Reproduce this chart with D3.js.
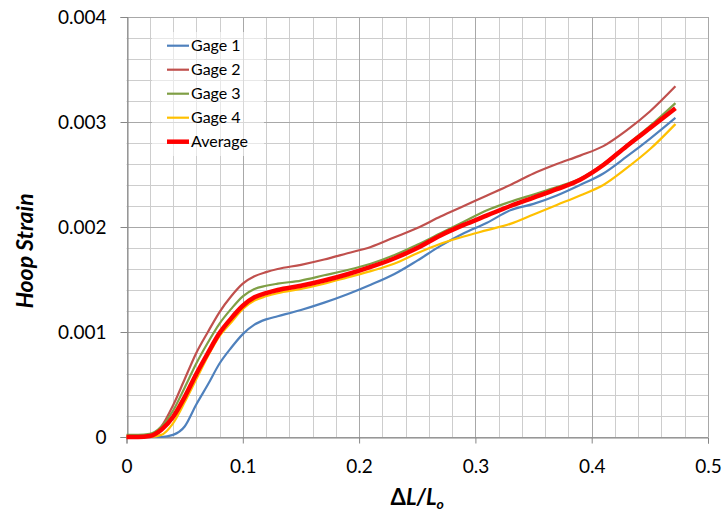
<!DOCTYPE html>
<html>
<head>
<meta charset="utf-8">
<script src="https://cdn.jsdelivr.net/npm/d3@7"></script>
<style>
  body { margin: 0; background: #fff; }
  svg { display: block; font-family: Lato, "Open Sans", sans-serif; }
</style>
</head>
<body>
<svg id="chart" width="728" height="514"></svg>
<script>
// displacement ratio dL/Lo, shared by all series
const xs = [0, 0.01, 0.02, 0.03, 0.04, 0.05, 0.06, 0.07, 0.08, 0.09, 0.10, 0.11, 0.12, 0.13,
  0.15, 0.17, 0.19, 0.21, 0.23, 0.25, 0.27, 0.29, 0.31, 0.33, 0.35, 0.37, 0.39, 0.41, 0.43, 0.45, 0.472];

const gage1 = [0, 0, 0, 0, 0.00002, 0.0001, 0.00031, 0.0005, 0.0007, 0.00085, 0.00098, 0.00107, 0.00112, 0.00115,
  0.00121, 0.00128, 0.00136, 0.00145, 0.00155, 0.00168, 0.00182, 0.00194, 0.00204, 0.00216, 0.00222, 0.0023,
  0.0024, 0.00251, 0.00267, 0.00284, 0.00304];
const gage2 = [0, 0, 0.00001, 0.0001, 0.0003, 0.00055, 0.0008, 0.001, 0.00119, 0.00134, 0.00146, 0.00153, 0.00157, 0.0016,
  0.00164, 0.00169, 0.00175, 0.00181, 0.0019, 0.00199, 0.0021, 0.0022, 0.0023, 0.0024, 0.00251, 0.0026,
  0.00268, 0.00277, 0.00292, 0.0031, 0.00334];
const gage3 = [0.00002, 0.00002, 0.00003, 0.0001, 0.00025, 0.00047, 0.0007, 0.0009, 0.00108, 0.00122, 0.00134, 0.00141, 0.00144, 0.00146,
  0.00149, 0.00154, 0.00159, 0.00165, 0.00173, 0.00183, 0.00194, 0.00205, 0.00216, 0.00224, 0.00231, 0.00238,
  0.00246, 0.0026, 0.00278, 0.00296, 0.00318];
const gage4 = [0, 0, 0, 0.00002, 0.00013, 0.00033, 0.00055, 0.00077, 0.00096, 0.00109, 0.00122, 0.0013, 0.00134, 0.00137,
  0.00141, 0.00146, 0.00152, 0.00158, 0.00165, 0.00175, 0.00184, 0.00191, 0.00197, 0.00203, 0.00212, 0.00221,
  0.0023, 0.0024, 0.00256, 0.00274, 0.00298];
const average = [0, 0, 0.00001, 0.00007, 0.00019, 0.00038, 0.0006, 0.0008, 0.00099, 0.00113, 0.00125, 0.00133, 0.00137, 0.0014,
  0.00144, 0.00149, 0.00155, 0.00162, 0.0017, 0.0018, 0.00192, 0.00202, 0.00211, 0.0022, 0.00228, 0.00236,
  0.00245, 0.00259, 0.00277, 0.00294, 0.00313];

const seriesNames = ["Gage 1", "Gage 2", "Gage 3", "Gage 4", "Average"];
const seriesValues = [gage1, gage2, gage3, gage4, average];
const seriesColors = ["#4f81bd", "#c0504d", "#7f9f45", "#ffc000", "#ff0000"];

const xTicks = [0, 0.1, 0.2, 0.3, 0.4, 0.5];
const yTicks = [0, 0.001, 0.002, 0.003, 0.004];

const svg = d3.select("#chart");
const margin = {left: 126.5, right: 20, top: 17, bottom: 77};
const W = 728, H = 514;

const x = d3.scaleLinear().domain([0, 0.5]).range([margin.left, W - margin.right]);
const y = d3.scaleLinear().domain([0, 0.004]).range([H - margin.bottom, margin.top]);

// gridlines, minor first then major on top
const grid = svg.append("g");
const xMinor = d3.range(0, 0.5001, 0.02);
const yMinor = d3.range(0, 0.004001, 0.0002);
grid.selectAll(".vx").data(xMinor).join("line")
  .attr("x1", d => Math.round(x(d)) + 0.5).attr("x2", d => Math.round(x(d)) + 0.5)
  .attr("y1", y(0)).attr("y2", y(0.004))
  .attr("stroke", "#cdcdcd");
grid.selectAll(".hy").data(yMinor).join("line")
  .attr("y1", d => Math.round(y(d)) + 0.5).attr("y2", d => Math.round(y(d)) + 0.5)
  .attr("x1", x(0)).attr("x2", x(0.5))
  .attr("stroke", "#cdcdcd");
grid.selectAll(".vxM").data(xTicks).join("line")
  .attr("x1", d => Math.round(x(d)) + 0.5).attr("x2", d => Math.round(x(d)) + 0.5)
  .attr("y1", y(0)).attr("y2", y(0.004))
  .attr("stroke", "#a8a8a8");
grid.selectAll(".hyM").data(yTicks).join("line")
  .attr("y1", d => Math.round(y(d)) + 0.5).attr("y2", d => Math.round(y(d)) + 0.5)
  .attr("x1", x(0)).attr("x2", x(0.5))
  .attr("stroke", "#a8a8a8");

// axes
const fmtX = d => d === 0 ? "0" : d3.format(".1f")(d);
const fmtY = d => d === 0 ? "0" : d3.format(".3f")(d);

const xAxis = svg.append("g")
  .attr("transform", `translate(0,${Math.round(y(0)) + 0.5})`)
  .call(d3.axisBottom(x).tickValues(xTicks).tickFormat(fmtX).tickSize(6).tickPadding(16));
const yAxis = svg.append("g")
  .attr("transform", `translate(${Math.round(x(0)) + 0.5},0)`)
  .call(d3.axisLeft(y).tickValues(yTicks).tickFormat(fmtY).tickSize(7).tickPadding(14));

[xAxis, yAxis].forEach(a => {
  a.select(".domain").attr("stroke", "#868686");
  a.selectAll(".tick line").attr("stroke", "#868686");
  a.selectAll(".tick text").attr("fill", "#000").style("font-size", "19px")
    .style("font-family", "Lato, sans-serif");
});
yAxis.selectAll(".tick text").attr("dy", "0.36em");

// series lines
const line = d3.line()
  .x((d, i) => x(xs[i]))
  .y(d => y(d))
  .curve(d3.curveMonotoneX);

svg.append("g").selectAll("path").data(seriesValues).join("path")
  .attr("d", d => line(d))
  .attr("fill", "none")
  .attr("stroke", (d, i) => seriesColors[i])
  .attr("stroke-width", (d, i) => i === 4 ? 4.5 : 2.2)
  .attr("stroke-linejoin", "round");

// legend
const legend = svg.append("g");
legend.append("rect")
  .attr("x", 152).attr("y", 32).attr("width", 112).attr("height", 124)
  .attr("fill", "#fff").attr("opacity", 0.55);
const rows = legend.selectAll("g").data(seriesNames).join("g")
  .attr("transform", (d, i) => `translate(167,${45.7 + i * 24})`);
rows.append("line")
  .attr("x1", 0).attr("x2", 22)
  .attr("stroke", (d, i) => seriesColors[i])
  .attr("stroke-width", (d, i) => i === 4 ? 4.5 : 2.2);
rows.append("text")
  .attr("x", 24).attr("dy", "0.36em")
  .style("font-size", "16px")
  .text(d => d);

// axis titles
svg.append("text")
  .attr("transform", "translate(33,251) rotate(-90)")
  .attr("text-anchor", "middle")
  .style("font-size", "23px").style("font-weight", "bold").style("font-style", "italic")
  .text("Hoop Strain");

const xt = svg.append("text")
  .attr("x", x(0.25)).attr("y", 505)
  .attr("text-anchor", "middle")
  .style("font-size", "22px").style("font-weight", "bold");
xt.append("tspan").text("\u0394");
xt.append("tspan").style("font-style", "italic").text("L/L");
xt.append("tspan").style("font-style", "italic").style("font-size", "14px").attr("dy", 4).text("o");
</script>
</body>
</html>
